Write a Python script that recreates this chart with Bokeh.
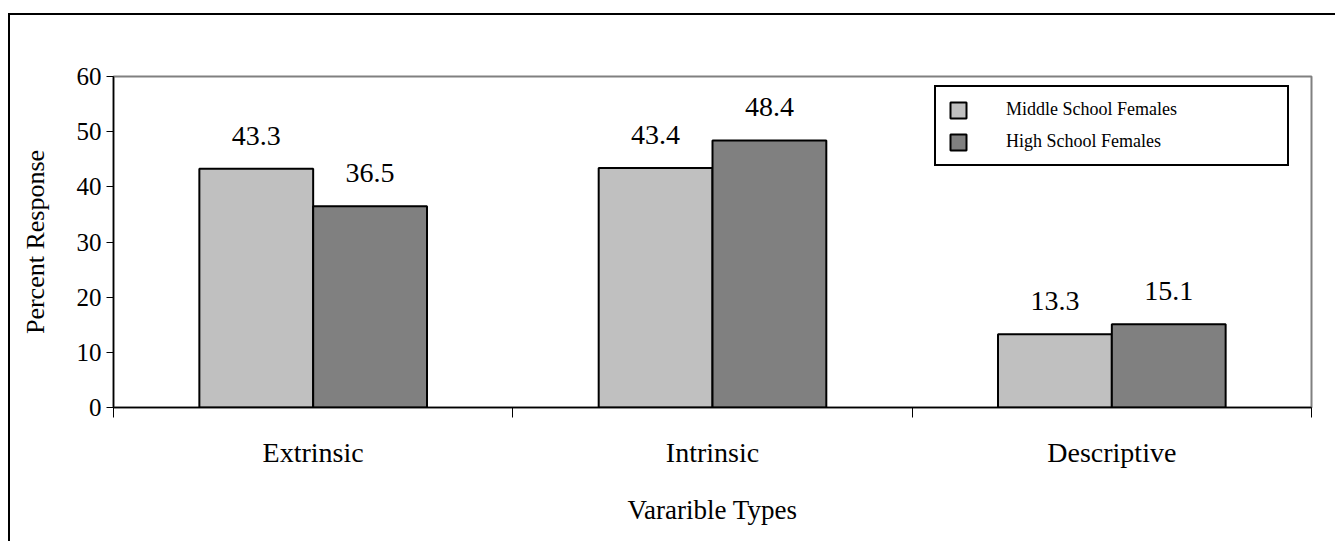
from bokeh.plotting import figure
from bokeh.models import (Range1d, FixedTicker, Legend, LegendItem, ColumnDataSource,
                          InlineStyleSheet)
from bokeh.core.properties import value
from bokeh.embed import file_html
from bokeh.resources import INLINE

# Data
categories = ["Extrinsic", "Intrinsic", "Descriptive"]
series_names = ["Middle School Females", "High School Females"]
middle_school = [43.3, 43.4, 13.3]
high_school = [36.5, 48.4, 15.1]
y_ticks = [0, 10, 20, 30, 40, 50, 60]

FONT = "Liberation Serif"
LIGHT = "#c0c0c0"
DARK = "#808080"
BAR_W = 0.285

centers = [i + 0.5 for i in range(len(categories))]

p = figure(width=1335, height=541, output_backend="svg", toolbar_location=None,
           x_range=Range1d(0, len(categories)), y_range=Range1d(0, 60),
           min_border_left=113, min_border_right=24, min_border_top=76,
           min_border_bottom=134)
p.xgrid.visible = False
p.ygrid.visible = False
p.outline_line_color = "#808080"
p.outline_line_width = 2
p.outline_line_alpha = 1
p.background_fill_color = "white"
p.border_fill_color = "white"

# Outer chart frame (top and left edges inside the page)
p.stylesheets = [InlineStyleSheet(css="""
:host::after {
  content: "";
  position: absolute;
  left: 8px; top: 13px; right: 0; bottom: 0;
  border-left: 2px solid black;
  border-top: 2px solid black;
  pointer-events: none;
}
""")]

src_ms = ColumnDataSource(dict(x=[c - BAR_W / 2 for c in centers], top=middle_school,
                               lab=[f"{v:.1f}" for v in middle_school]))
src_hs = ColumnDataSource(dict(x=[c + BAR_W / 2 for c in centers], top=high_school,
                               lab=[f"{v:.1f}" for v in high_school]))

r_ms = p.vbar(x="x", top="top", bottom=0, width=BAR_W, source=src_ms,
              fill_color=LIGHT, line_color="black", line_width=2)
r_hs = p.vbar(x="x", top="top", bottom=0, width=BAR_W, source=src_hs,
              fill_color=DARK, line_color="black", line_width=2)

for src in (src_ms, src_hs):
    p.text(x="x", y="top", text="lab", source=src, text_align="center",
           text_baseline="alphabetic", y_offset=-33,
           text_font=value(FONT), text_font_size="28px", text_color="black")

# Axes
p.yaxis.ticker = FixedTicker(ticks=y_ticks)
p.yaxis.major_tick_out = 7
p.yaxis.major_tick_in = 0
p.yaxis.minor_tick_line_color = None
p.yaxis.axis_line_color = "black"
p.yaxis.axis_line_width = 1.5
p.yaxis.major_label_text_font = FONT
p.yaxis.major_label_text_font_size = "25px"
p.yaxis.major_label_text_color = "black"
p.yaxis.major_label_standoff = 5
p.yaxis.axis_label = "Percent Response"
p.yaxis.axis_label_text_font = FONT
p.yaxis.axis_label_text_font_size = "26px"
p.yaxis.axis_label_text_font_style = "normal"
p.yaxis.axis_label_text_color = "black"
p.yaxis.axis_label_standoff = 24

p.xaxis.ticker = FixedTicker(ticks=centers, minor_ticks=list(range(len(categories) + 1)))
p.xaxis.major_label_overrides = {c: name for c, name in zip(centers, categories)}
p.xaxis.major_tick_out = 0
p.xaxis.major_tick_in = 0
p.xaxis.minor_tick_out = 10
p.xaxis.minor_tick_in = 0
p.xaxis.minor_tick_line_color = "black"
p.xaxis.axis_line_color = "black"
p.xaxis.axis_line_width = 1.5
p.xaxis.major_label_text_font = FONT
p.xaxis.major_label_text_font_size = "28px"
p.xaxis.major_label_text_color = "black"
p.xaxis.major_label_standoff = 19
p.xaxis.axis_label = "Vararible Types"
p.xaxis.axis_label_text_font = FONT
p.xaxis.axis_label_text_font_size = "27px"
p.xaxis.axis_label_text_font_style = "normal"
p.xaxis.axis_label_text_color = "black"
p.xaxis.axis_label_standoff = 24

# Legend
legend = Legend(items=[LegendItem(label=series_names[0], renderers=[r_ms]),
                       LegendItem(label=series_names[1], renderers=[r_hs])],
                location=(821, 241), orientation="vertical",
                label_text_font=FONT, label_text_font_size="18px",
                label_text_color="black", glyph_width=20, glyph_height=20,
                label_width=269, label_height=20, spacing=11, padding=12, margin=0,
                border_line_color="black", border_line_width=2, border_line_alpha=1,
                background_fill_color="white", background_fill_alpha=1,
                label_standoff=38)
p.add_layout(legend)

open("out.html", "w").write(file_html(p, INLINE))
